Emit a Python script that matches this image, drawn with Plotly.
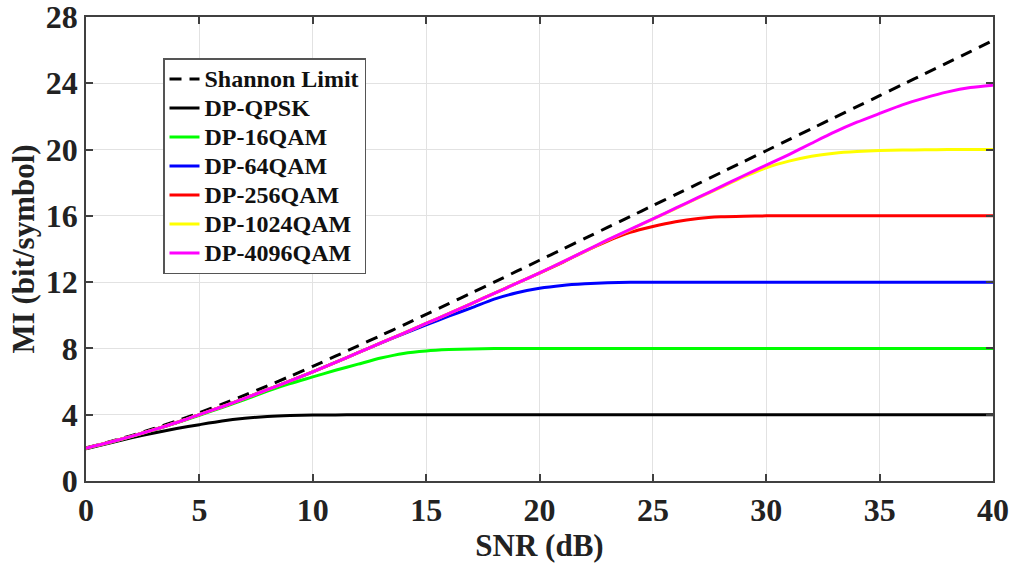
import plotly.graph_objects as go

snr_db = list(range(0, 41))

shannon = [2.00, 2.35, 2.74, 3.17, 3.62, 4.12, 4.63, 5.18, 5.74, 6.32, 6.92,
           7.53, 8.15, 8.78, 9.41, 10.06, 10.70, 11.35, 12.00, 12.66, 13.32,
           13.98, 14.64, 15.30, 15.96, 16.62, 17.28, 17.94, 18.61, 19.27, 19.93,
           20.60, 21.26, 21.93, 22.59, 23.25, 23.92, 24.58, 25.25, 25.91, 26.58]

qpsk = [1.95, 2.28, 2.60, 2.90, 3.17, 3.40, 3.62, 3.78, 3.89, 3.95, 3.98,
        3.99, 4.00, 4.00, 4.00, 4.00, 4.00, 4.00, 4.00, 4.00, 4.00,
        4.00, 4.00, 4.00, 4.00, 4.00, 4.00, 4.00, 4.00, 4.00, 4.00,
        4.00, 4.00, 4.00, 4.00, 4.00, 4.00, 4.00, 4.00, 4.00, 4.00]

qam16 = [1.97, 2.31, 2.68, 3.09, 3.51, 3.97, 4.43, 4.92, 5.42, 5.88, 6.28,
         6.68, 7.05, 7.42, 7.70, 7.85, 7.93, 7.97, 7.99, 8.00, 8.00,
         8.00, 8.00, 8.00, 8.00, 8.00, 8.00, 8.00, 8.00, 8.00, 8.00,
         8.00, 8.00, 8.00, 8.00, 8.00, 8.00, 8.00, 8.00, 8.00, 8.00]

qam64 = [1.98, 2.32, 2.69, 3.10, 3.53, 4.01, 4.48, 4.99, 5.51, 6.04, 6.59,
         7.16, 7.74, 8.32, 8.88, 9.42, 9.95, 10.45, 10.98, 11.36, 11.63,
         11.80, 11.90, 11.96, 11.99, 12.00, 12.00, 12.00, 12.00, 12.00, 12.00,
         12.00, 12.00, 12.00, 12.00, 12.00, 12.00, 12.00, 12.00, 12.00, 12.00]

qam256 = [1.98, 2.32, 2.69, 3.10, 3.53, 4.01, 4.48, 4.99, 5.51, 6.04, 6.59,
          7.16, 7.74, 8.33, 8.91, 9.51, 10.10, 10.71, 11.32, 11.94, 12.55,
          13.18, 13.86, 14.48, 15.00, 15.36, 15.65, 15.84, 15.94, 15.98, 16.00,
          16.00, 16.00, 16.00, 16.00, 16.00, 16.00, 16.00, 16.00, 16.00, 16.00]

qam1024 = [1.98, 2.32, 2.69, 3.10, 3.53, 4.01, 4.48, 4.99, 5.51, 6.04, 6.59,
           7.16, 7.74, 8.33, 8.91, 9.51, 10.10, 10.71, 11.32, 11.94, 12.56,
           13.21, 13.86, 14.53, 15.16, 15.80, 16.44, 17.08, 17.72, 18.35, 18.90,
           19.30, 19.60, 19.78, 19.88, 19.94, 19.97, 19.99, 20.00, 20.00, 20.00]

qam4096 = [1.98, 2.32, 2.69, 3.10, 3.53, 4.01, 4.48, 4.99, 5.51, 6.04, 6.59,
           7.16, 7.74, 8.33, 8.91, 9.51, 10.10, 10.71, 11.32, 11.94, 12.56,
           13.21, 13.87, 14.55, 15.18, 15.82, 16.46, 17.11, 17.76, 18.42, 19.06,
           19.70, 20.38, 21.05, 21.65, 22.18, 22.70, 23.12, 23.48, 23.74, 23.88]

series_names = ["Shannon Limit", "DP-QPSK", "DP-16QAM", "DP-64QAM",
                "DP-256QAM", "DP-1024QAM", "DP-4096QAM"]
series_values = [shannon, qpsk, qam16, qam64, qam256, qam1024, qam4096]
series_colors = ["#000000", "#000000", "#00ff00", "#0000ff",
                 "#ff0000", "#ffff00", "#ff00ff"]
series_dash = ["12px,8px", "solid", "solid", "solid", "solid", "solid", "solid"]

x_ticks = [0, 5, 10, 15, 20, 25, 30, 35, 40]
y_ticks = [0, 4, 8, 12, 16, 20, 24, 28]

fig = go.Figure()
for name, vals, color, dash in zip(series_names, series_values, series_colors, series_dash):
    fig.add_trace(go.Scatter(
        x=snr_db, y=vals, mode="lines",
        name='<span style="font-size:24px">' + name + '</span>',
        line=dict(color=color, width=3, dash=dash, shape="spline", smoothing=0.6),
    ))

font_family = "Liberation Serif, Times New Roman, serif"
axis_common = dict(
    showline=True, linecolor="#404040", linewidth=1.5, mirror="ticks",
    ticks="inside", ticklen=7, tickwidth=1.5, tickcolor="#404040",
    showgrid=True, gridcolor="#e2e2e2", gridwidth=1, zeroline=False,
    automargin=False, ticklabeloverflow="allow",
    tickfont=dict(family=font_family, size=32, color="#222222", weight="bold"),
)

fig.update_layout(
    width=1013, height=564,
    margin=dict(l=86, r=20, t=17, b=83),
    paper_bgcolor="white", plot_bgcolor="white",
    font=dict(family=font_family, size=20, color="#222222"),
    xaxis=dict(range=[0, 40], tickvals=x_ticks, ticktext=[str(v) for v in x_ticks],
               title=dict(text="<b>SNR (dB)</b>", font=dict(family=font_family, size=31), standoff=4),
               **axis_common),
    yaxis=dict(range=[0, 28], tickvals=y_ticks, ticktext=[str(v) for v in y_ticks],
               title=dict(text="<b>MI (bit/symbol)</b>", font=dict(family=font_family, size=31), standoff=2),
               **axis_common),
    legend=dict(
        x=0.0849, y=0.9116, xanchor="left", yanchor="top",
        bgcolor="white", bordercolor="#555555", borderwidth=1.5,
        font=dict(family=font_family, size=20, color="#111111", weight="bold"),
        itemwidth=30, tracegroupgap=0,
    ),
    showlegend=True,
)

fig.write_html("out.html", config={"displayModeBar": False},
               post_script="document.body.style.margin='0';")
